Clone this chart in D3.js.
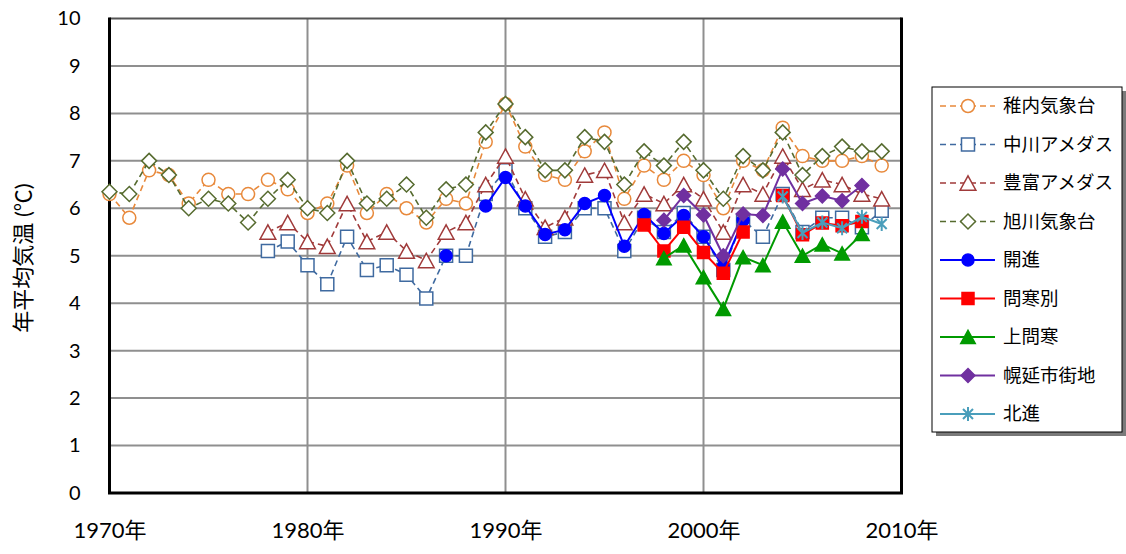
<!DOCTYPE html>
<html>
<head>
<meta charset="utf-8">
<script src="https://cdn.jsdelivr.net/npm/d3@7"></script>
<style>
  html, body { margin: 0; padding: 0; background: #fff; }
  svg text { font-family: Lato, "Noto Sans CJK JP", sans-serif; fill: #000; }
</style>
</head>
<body>
<div id="chart"></div>
<script>
const years = d3.range(1970, 2010);
const xTicks = [1970, 1980, 1990, 2000, 2010];
const yTicks = d3.range(0, 11);

const wakkanai = [6.3, 5.8, 6.8, 6.7, 6.1, 6.6, 6.3, 6.3, 6.6, 6.4,
  5.9, 6.1, 6.9, 5.9, 6.3, 6.0, 5.7, 6.2, 6.1, 7.4,
  8.2, 7.3, 6.7, 6.6, 7.2, 7.6, 6.2, 6.9, 6.6, 7.0,
  6.7, 6.0, 7.0, 6.8, 7.7, 7.1, 7.0, 7.0, 7.1, 6.9];
const nakagawa = [null, null, null, null, null, null, null, null, 5.1, 5.3,
  4.8, 4.4, 5.4, 4.7, 4.8, 4.6, 4.1, 5.0, 5.0, 6.3,
  6.8, 6.0, 5.4, 5.5, 6.0, 6.0, 5.1, 5.8, 5.5, 5.9,
  5.4, 4.7, 5.75, 5.4, 6.3, 5.5, 5.8, 5.8, 5.6, 5.95];
const toyotomi = [null, null, null, null, null, null, null, null, 5.5, 5.7,
  5.3, 5.2, 6.1, 5.3, 5.5, 5.1, 4.9, 5.5, 5.7, 6.5,
  7.1, 6.2, 5.6, 5.8, 6.7, 6.8, 5.7, 6.3, 6.1, 6.5,
  6.2, 5.5, 6.5, 6.3, 7.1, 6.4, 6.6, 6.5, 6.3, 6.2];
const asahikawa = [6.35, 6.3, 7.0, 6.7, 6.0, 6.2, 6.1, 5.7, 6.2, 6.6,
  6.0, 5.9, 7.0, 6.1, 6.2, 6.5, 5.8, 6.4, 6.5, 7.6,
  8.2, 7.5, 6.8, 6.8, 7.5, 7.4, 6.5, 7.2, 6.9, 7.4,
  6.8, 6.2, 7.1, 6.8, 7.6, 6.7, 7.1, 7.3, 7.2, 7.2];
const kaishin = [null, null, null, null, null, null, null, null, null, null,
  null, null, null, null, null, null, null, 5.0, null, 6.05,
  6.65, 6.05, 5.45, 5.55, 6.1, 6.27, 5.2, 5.87, 5.47, 5.85,
  5.4, 4.77, 5.75, null, null, null, null, null, null, null];
const toikanbetsu = [null, null, null, null, null, null, null, null, null, null,
  null, null, null, null, null, null, null, null, null, null,
  null, null, null, null, null, null, null, 5.65, 5.1, 5.6,
  5.07, 4.63, 5.5, null, 6.27, 5.44, 5.69, 5.63, 5.72, null];
const kamitoikan = [null, null, null, null, null, null, null, null, null, null,
  null, null, null, null, null, null, null, null, null, null,
  null, null, null, null, null, null, null, null, 4.95, 5.22,
  4.55, 3.88, 4.97, 4.8, 5.72, 5.0, 5.24, 5.05, 5.46, null];
const horonobe = [null, null, null, null, null, null, null, null, null, null,
  null, null, null, null, null, null, null, null, null, null,
  null, null, null, null, null, null, null, null, 5.75, 6.27,
  5.86, 5.0, 5.88, 5.85, 6.83, 6.1, 6.26, 6.16, 6.48, null];
const hokushin = [null, null, null, null, null, null, null, null, null, null,
  null, null, null, null, null, null, null, null, null, null,
  null, null, null, null, null, null, null, null, null, null,
  null, null, null, null, 6.25, 5.48, 5.7, 5.58, 5.82, 5.67];

const seriesNames = ['稚内気象台', '中川アメダス', '豊富アメダス', '旭川気象台', '開進', '問寒別', '上問寒', '幌延市街地', '北進'];
const seriesValues = [wakkanai, nakagawa, toyotomi, asahikawa, kaishin, toikanbetsu, kamitoikan, horonobe, hokushin];

// look per series
const styles = [
  { color: '#E8893B', dash: '6,4', marker: 'circle', fill: '#fff' },
  { color: '#3F6AA0', dash: '6,4', marker: 'square', fill: '#fff' },
  { color: '#A03A3A', dash: '6,4', marker: 'triangle', fill: '#fff' },
  { color: '#566B2F', dash: '6,4', marker: 'diamond', fill: '#fff' },
  { color: '#0000FF', dash: null, marker: 'circle', fill: '#0000FF' },
  { color: '#FF0000', dash: null, marker: 'square', fill: '#FF0000' },
  { color: '#009A00', dash: null, marker: 'triangle', fill: '#009A00' },
  { color: '#7030A0', dash: null, marker: 'diamond', fill: '#7030A0' },
  { color: '#4A9EBB', dash: null, marker: 'asterisk', fill: 'none' }
];

function markerPath(type, open) {
  const r = open ? 6.5 : 6;
  switch (type) {
    case 'circle': return d3.symbol(d3.symbolCircle, Math.PI * r * r)();
    case 'square': return `M${-r},${-r}H${r}V${r}H${-r}Z`;
    case 'triangle': { const h = r * 1.1; return `M0,${-h}L${h * 1.1},${h}L${-h * 1.1},${h}Z`; }
    case 'diamond': { const d = r * 1.15; return `M0,${-d}L${d},0L0,${d}L${-d},0Z`; }
    case 'asterisk': { const a = 7, b = 5; return `M0,${-a}V${a}M${-b},${-b}L${b},${b}M${-b},${b}L${b},${-b}`; }
  }
}

const W = 1126, H = 554;
const m = { left: 109.5, right: 901.5, top: 18.5, bottom: 493 };

const svg = d3.select('#chart').append('svg')
  .attr('width', W).attr('height', H)
  .attr('viewBox', `0 0 ${W} ${H}`);

const x = d3.scaleLinear().domain([1970, 2010]).range([m.left, m.right]);
const y = d3.scaleLinear().domain([0, 10]).range([m.bottom, m.top]);

// grid
svg.append('g').selectAll('line').data(yTicks.filter(v => v > 0 && v < 10)).join('line')
  .attr('x1', m.left).attr('x2', m.right)
  .attr('y1', d => y(d)).attr('y2', d => y(d))
  .attr('stroke', '#8f8f8f').attr('stroke-width', 2);
svg.append('g').selectAll('line').data(xTicks.slice(1, -1)).join('line')
  .attr('x1', d => x(d)).attr('x2', d => x(d))
  .attr('y1', m.top).attr('y2', m.bottom)
  .attr('stroke', '#8f8f8f').attr('stroke-width', 2);

// frame
svg.append('line').attr('x1', m.left).attr('x2', m.right).attr('y1', y(10)).attr('y2', y(10))
  .attr('stroke', '#555').attr('stroke-width', 2);
svg.append('path')
  .attr('d', `M${m.left},${m.top - 1}V${m.bottom}H${m.right}V${m.top - 1}`)
  .attr('fill', 'none').attr('stroke', '#000').attr('stroke-width', 3);

// axes
const yAxis = svg.append('g').attr('transform', `translate(${m.left},0)`)
  .call(d3.axisLeft(y).tickValues(yTicks).tickFormat(d3.format('d')).tickSize(0).tickPadding(29));
yAxis.select('.domain').remove();
yAxis.selectAll('text').style('font-size', '20px').attr('fill', '#000');

const xAxis = svg.append('g').attr('transform', `translate(0,${m.bottom})`)
  .call(d3.axisBottom(x).tickValues(xTicks).tickFormat(d => d + '年').tickSize(0).tickPadding(29));
xAxis.select('.domain').remove();
xAxis.selectAll('text').style('font-size', '22px').attr('fill', '#000');

svg.append('text')
  .attr('transform', `translate(23,258) rotate(-90)`)
  .attr('text-anchor', 'middle').attr('dy', '0.35em')
  .style('font-size', '22px')
  .text('年平均気温 (℃)');

// series
const line = d3.line()
  .defined(d => d.v != null)
  .x(d => x(d.year)).y(d => y(d.v));

seriesValues.forEach((vals, i) => {
  const st = styles[i];
  const pts = years.map((yr, k) => ({ year: yr, v: vals[k] }));
  const g = svg.append('g');
  g.append('path').datum(pts)
    .attr('d', line)
    .attr('fill', 'none').attr('stroke', st.color).attr('stroke-width', st.dash ? 1.6 : 2)
    .attr('stroke-dasharray', st.dash);
  g.selectAll('path.mk').data(pts.filter(d => d.v != null)).join('path')
    .attr('class', 'mk')
    .attr('transform', d => `translate(${x(d.year)},${y(d.v)})`)
    .attr('d', markerPath(st.marker, st.dash != null))
    .attr('fill', st.fill)
    .attr('stroke', st.color)
    .attr('stroke-width', st.marker === 'asterisk' ? 2 : 1.5);
});

// legend
const lg = svg.append('g').attr('transform', 'translate(932,87)');
lg.append('rect').attr('x', 4).attr('y', 4).attr('width', 190).attr('height', 345).attr('fill', '#7a7a7a');
lg.append('rect').attr('x', 0).attr('y', 0).attr('width', 190).attr('height', 345)
  .attr('fill', '#fff').attr('stroke', '#000').attr('stroke-width', 1);

seriesNames.forEach((name, i) => {
  const st = styles[i];
  const row = lg.append('g').attr('transform', `translate(0,${19 + i * 38.5})`);
  row.append('line').attr('x1', 8).attr('x2', 63).attr('y1', 0).attr('y2', 0)
    .attr('stroke', st.color).attr('stroke-width', st.dash ? 1.6 : 2).attr('stroke-dasharray', st.dash);
  row.append('path').attr('transform', 'translate(36,0)')
    .attr('d', markerPath(st.marker, st.dash != null))
    .attr('fill', st.fill).attr('stroke', st.color)
    .attr('stroke-width', st.marker === 'asterisk' ? 2 : 1.5);
  row.append('text').attr('x', 71).attr('dy', '0.35em')
    .style('font-size', '18.5px').text(name);
});
</script>
</body>
</html>
